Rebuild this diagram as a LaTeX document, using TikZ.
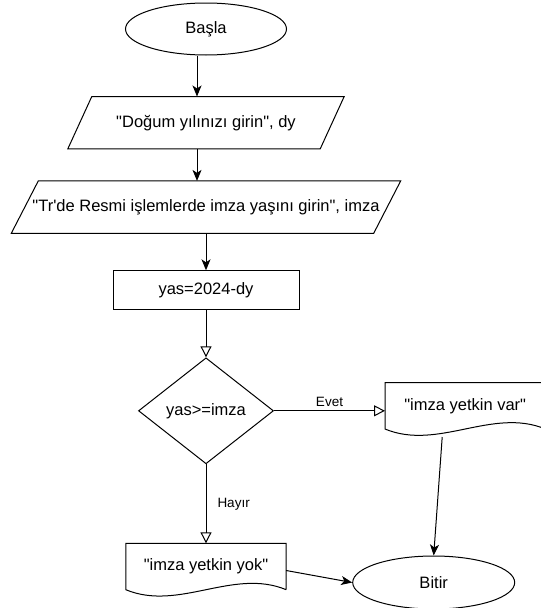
\documentclass[tikz,border=0pt]{standalone}
\usepackage{fontspec}
\setmainfont{Liberation Sans}[Ligatures=TeXOff]
\usetikzlibrary{arrows.meta,positioning,shapes.geometric}

\begin{document}
\begin{tikzpicture}[
x=1pt, y=-1pt,
every node/.style={font=\fontsize{16.5}{19}\selectfont},
term/.style={draw, ellipse, minimum width=161pt, minimum height=52pt, inner sep=0pt, line width=1pt},
io/.style={minimum width=#1, minimum height=52pt, inner sep=0pt},
proc/.style={draw, rectangle, minimum width=186pt, minimum height=39pt, inner sep=0pt, line width=1pt},
cond/.style={draw, diamond, minimum width=135pt, minimum height=106pt, inner sep=0pt, line width=1pt},
doc/.style={minimum width=160pt, minimum height=46pt, inner sep=0pt},
outline/.style={line width=1pt},
lbl/.style={font=\fontsize{13.5}{16}\selectfont, inner sep=0pt},
arr/.style={-{Stealth[length=11pt, width=9pt, inset=3pt]}, line width=1pt},
oarr/.style={-{Triangle[open, length=11pt, width=11pt]}, line width=1pt}
]
\clip (0,0) rectangle (541,608);

% main column
\node[term] (start) at (206,29) {Başla};
\node[io=252pt, below=41pt of start] (in1) {"Doğum yılınızı girin", dy};
\node[io=362pt, below=32pt of in1] (in2) {"Tr'de Resmi işlemlerde imza yaşını girin", imza};
\node[proc, below=37pt of in2] (calc) {yas=2024-dy};
\node[cond, below=47pt of calc] (dec) {yas>=imza};

% outputs and end
\node[doc, right=111pt of dec, yshift=5pt] (yes) {"imza yetkin var"};
\node[doc, below=79pt of dec] (no) {"imza yetkin yok"};
\node[term, minimum width=162pt, minimum height=53pt, right=66pt of no, yshift=-16pt] (stop) {Bitir};

% input parallelograms
\draw[outline] ([xshift=12pt]in1.north west) -- ([xshift=12pt]in1.north east) -- ([xshift=-12pt]in1.south east) -- ([xshift=-12pt]in1.south west) -- cycle;
\draw[outline] ([xshift=13.5pt]in2.north west) -- ([xshift=13.5pt]in2.north east) -- ([xshift=-13.5pt]in2.south east) -- ([xshift=-13.5pt]in2.south west) -- cycle;

% documents
\draw[outline] (yes.south east) -- (yes.north east) -- (yes.north west) -- (yes.south west) .. controls +(53,22) and +(-53,-22) .. (yes.south east);
\draw[outline] (no.south east) -- (no.north east) -- (no.north west) -- (no.south west) .. controls +(53,22) and +(-53,-22) .. (no.south east);

% connectors
\draw[arr] ([xshift=-9pt]start.south) -- ([xshift=-9pt]start.south |- in1.north);
\draw[arr] ([xshift=-9pt]in1.south) -- ([xshift=-9pt]in1.south |- in2.north);
\draw[arr] (in2.south) -- (calc.north);
\draw[oarr] (calc.south) -- (dec.north);
\draw[oarr] (dec.east) -- (dec.east -| yes.west) node[midway, above=4pt, lbl] {Evet};
\draw[oarr] (dec.south) -- (no.north) node[midway, right=11pt, lbl] {Hayır};
\draw[arr] ([xshift=-23pt, yshift=-8pt]yes.south) -- (stop.north);
\draw[arr] ([yshift=-4pt]no.east) -- (stop.west);

\end{tikzpicture}
\end{document}
